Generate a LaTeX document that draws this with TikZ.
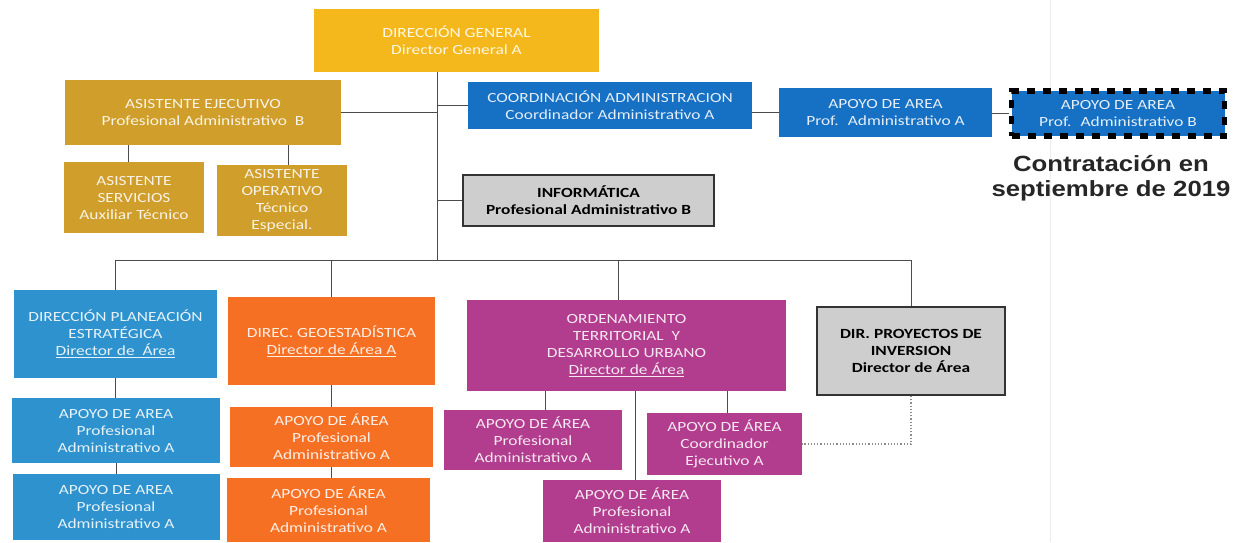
\documentclass[tikz,border=0pt]{standalone}
\usepackage{fontspec}
\setmainfont[FakeStretch=1.24]{Carlito}
\newfontfamily\notefont[FakeStretch=1.17]{Liberation Sans}
\usetikzlibrary{calc}

\definecolor{dgold}{RGB}{244,184,28}
\definecolor{mgold}{RGB}{208,158,42}
\definecolor{cblue}{RGB}{22,112,196}
\definecolor{pblue}{RGB}{46,146,206}
\definecolor{gorange}{RGB}{246,112,36}
\definecolor{omagenta}{RGB}{178,60,142}
\definecolor{pgray}{RGB}{206,206,206}

\tikzset{
	orgbox/.style={fill=#1, text=white!88!#1, align=center, inner sep=0pt, font=\fontsize{14}{17}\selectfont},
	graybox/.style={draw=black!80, line width=1.8pt, fill=pgray, text=black, align=center, inner sep=0pt, font=\fontsize{14}{17}\selectfont\bfseries},
	wire/.style={draw=black!70, line width=0.9pt},
}

\begin{document}
\begin{tikzpicture}[x=1pt, y=-1pt]
			%%%%% START %%%%%
			\useasboundingbox (0, 0) rectangle (1236, 542);
			
			\draw[line width=1pt, color=black!7] (1050, 0) -- (1050, 542);
			
			\node[orgbox=dgold, minimum width=285pt, minimum height=63pt] (dg) at (456.5, 40.5) {DIRECCIÓN GENERAL\\Director General A};
			
			\node[orgbox=mgold, minimum width=276pt, minimum height=65pt] (asej) at (203, 112.5) {ASISTENTE EJECUTIVO\\Profesional Administrativo~ B};
			\node[orgbox=mgold, minimum width=140pt, minimum height=71pt, text depth=-8pt] (asserv) at (134, 197.5) {ASISTENTE\\SERVICIOS\\Auxiliar Técnico};
			\node[orgbox=mgold, minimum width=130pt, minimum height=71pt] (asop) at (282, 200.5) {ASISTENTE\\OPERATIVO\\Técnico\\Especial.};
			
			\node[orgbox=cblue, minimum width=284pt, minimum height=47pt] (coord) at (610, 105.5) {COORDINACIÓN ADMINISTRACION\\Coordinador Administrativo A};
			\node[orgbox=cblue, minimum width=213pt, minimum height=49pt] (apoyoa) at (885.5, 112.5) {APOYO DE AREA\\Prof.~ Administrativo A};
			\node[orgbox=cblue, minimum width=213pt, minimum height=45pt, draw=black, line width=5.5pt, dash pattern=on 8pt off 8pt] (apoyob) at (1118, 113.5) {APOYO DE AREA\\Prof.~ Administrativo B};
			\node[align=center, text=black!85, font=\notefont\fontsize{22}{25}\selectfont\bfseries] (nota) at (1111, 178) {Contratación en\\septiembre de 2019};
			
			\node[graybox, minimum width=251pt, minimum height=51pt] (info) at (588.5, 200.5) {INFORMÁTICA\\Profesional Administrativo B};
			
			\node[orgbox=pblue, minimum width=203pt, minimum height=88pt] (planea) at (115.5, 334) {DIRECCIÓN PLANEACIÓN\\ESTRATÉGICA\\\underline{Director de~ Área}};
			\node[orgbox=pblue, minimum width=208pt, minimum height=65pt] (plap1) at (116, 430.5) {APOYO DE AREA\\Profesional\\Administrativo A};
			\node[orgbox=pblue, minimum width=207pt, minimum height=66pt] (plap2) at (116, 507) {APOYO DE AREA\\Profesional\\Administrativo A};
			
			\node[orgbox=gorange, minimum width=207pt, minimum height=88pt] (geo) at (331.5, 341) {DIREC. GEOESTADÍSTICA\\\underline{Director de Área A}};
			\node[orgbox=gorange, minimum width=203pt, minimum height=60pt] (geap1) at (331.5, 437) {APOYO DE ÁREA\\Profesional\\Administrativo A};
			\node[orgbox=gorange, minimum width=203pt, minimum height=64pt] (geap2) at (328.5, 510) {APOYO DE ÁREA\\Profesional\\Administrativo A};
			
			\node[orgbox=omagenta, minimum width=319pt, minimum height=91pt] (ord) at (626.5, 345.5) {ORDENAMIENTO\\TERRITORIAL~ Y\\DESARROLLO URBANO\\\underline{Director de Área}};
			\node[orgbox=omagenta, minimum width=178pt, minimum height=60pt] (orl) at (533, 440) {APOYO DE ÁREA\\Profesional\\Administrativo A};
			\node[orgbox=omagenta, minimum width=155pt, minimum height=62pt] (orr) at (724.5, 444) {APOYO DE ÁREA\\Coordinador\\Ejecutivo A};
			\node[orgbox=omagenta, minimum width=178pt, minimum height=62pt] (orb) at (632, 511) {APOYO DE ÁREA\\Profesional\\Administrativo A};
			
			\node[graybox, minimum width=188pt, minimum height=88pt] (proy) at (911, 351) {DIR. PROYECTOS DE\\INVERSION\\Director de Área};
			
			% lines
			\coordinate (hub) at (437, 260);
			\draw[wire] (dg.south -| hub) -- (hub);
			\draw[wire] (asej.east) -- (asej.east -| hub);
			\draw[wire] (coord.west) -- (coord.west -| hub);
			\draw[wire] (info.west) -- (info.west -| hub);
			\draw[wire] (apoyoa.west -| coord.east) -- (apoyoa.west);
			\draw[wire] (apoyob.west -| apoyoa.east) -- (apoyob.west);
			\draw[wire] ([xshift=-6pt]asserv.north |- asej.south) -- ([xshift=-6pt]asserv.north);
			\draw[wire] ([xshift=6pt]asop.north |- asej.south) -- ([xshift=6pt]asop.north);
			
			\draw[wire] (hub -| planea.north) -- (hub -| proy.north);
			\draw[wire] (hub -| planea.north) -- (planea.north);
			\draw[wire] (hub -| geo.north) -- (geo.north);
			\draw[wire] ([xshift=-8pt]ord.north |- hub) -- ([xshift=-8pt]ord.north);
			\draw[wire] (hub -| proy.north) -- (proy.north);
			
			\draw[wire] (planea.south) -- (planea.south |- plap1.north);
			\draw[wire] (plap1.south) -- (plap2.north);
			\draw[wire] (geo.south) -- (geo.south |- geap1.north);
			\draw[wire] (geap1.south -| geo.south) -- (geo.south |- geap2.north);
			
			\draw[wire] ([xshift=12pt]orl.north |- ord.south) -- ([xshift=12pt]orl.north);
			\draw[wire] ([xshift=3pt]orr.north |- ord.south) -- ([xshift=3pt]orr.north);
			\draw[wire, line width=0.6pt] ([xshift=3pt]orb.north |- ord.south) -- ([xshift=3pt]orb.north);
			\draw[line width=1.2pt, color=black!45, dotted] (proy.south) -- (proy.south |- orr.east) -- (orr.east);
			
			%%%%% END %%%%%
\end{tikzpicture}
\end{document}
